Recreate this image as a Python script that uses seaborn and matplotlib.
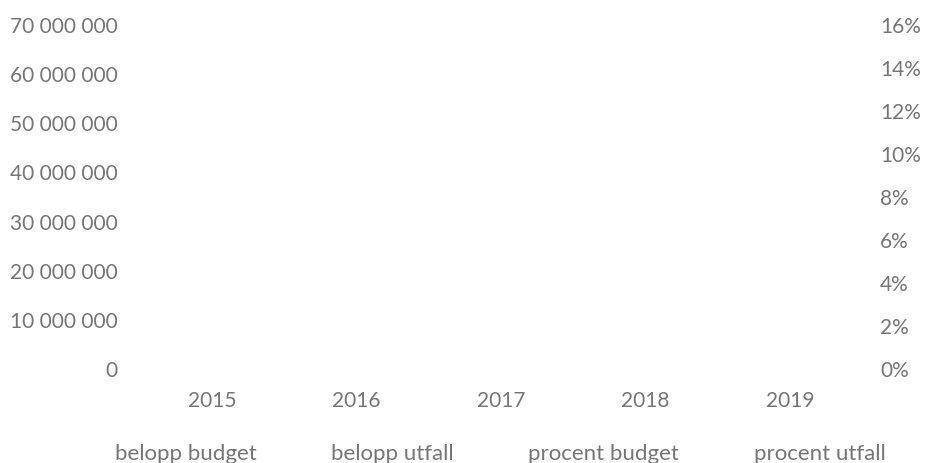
import numpy as np
import pandas as pd
import matplotlib
matplotlib.use("Agg")
import matplotlib.pyplot as plt
from matplotlib.patches import Patch
from matplotlib.ticker import FuncFormatter, PercentFormatter
import seaborn as sns

# Data: the series exist but carry no values in the source chart
years = ["2015", "2016", "2017", "2018", "2019"]
belopp_budget = [np.nan, np.nan, np.nan, np.nan, np.nan]
belopp_utfall = [np.nan, np.nan, np.nan, np.nan, np.nan]
procent_budget = [np.nan, np.nan, np.nan, np.nan, np.nan]
procent_utfall = [np.nan, np.nan, np.nan, np.nan, np.nan]
series_names = ["belopp budget", "belopp utfall", "procent budget", "procent utfall"]

TEXT = "#767676"

sns.set_theme(style="white")
plt.rcParams["font.family"] = ["Lato", "DejaVu Sans"]
plt.rcParams["font.size"] = 15

df_belopp = pd.DataFrame({
    "year": years * 2,
    "value": belopp_budget + belopp_utfall,
    "serie": [series_names[0]] * 5 + [series_names[1]] * 5,
})
df_procent = pd.DataFrame({
    "year": years * 2,
    "value": procent_budget + procent_utfall,
    "serie": [series_names[2]] * 5 + [series_names[3]] * 5,
})

fig = plt.figure(figsize=(9.26, 4.64), dpi=100)
ax = fig.add_axes([0.151, 0.2047, 0.780, 0.7413])

sns.barplot(data=df_belopp, x="year", y="value", hue="serie", ax=ax,
            order=years, legend=False)
ax.set_xlim(-0.5, 4.5)
ax.set_ylim(0, 70_000_000)
ax.set_yticks(np.arange(0, 70_000_001, 10_000_000))
ax.yaxis.set_major_formatter(FuncFormatter(lambda v, p: f"{int(v):,}".replace(",", " ")))

ax2 = ax.twinx()
sns.lineplot(data=df_procent, x="year", y="value", hue="serie", ax=ax2, legend=False)
ax2.set_xlim(-0.5, 4.5)
ax2.set_ylim(0, 0.16)
ax2.set_yticks(np.arange(0, 0.161, 0.02))
ax2.yaxis.set_major_formatter(PercentFormatter(1.0, decimals=0))

for a in (ax, ax2):
    a.set_xlabel("")
    a.set_ylabel("")
    for s in a.spines.values():
        s.set_visible(False)
    a.tick_params(length=0, colors=TEXT, labelsize=15)
ax.tick_params(axis="y", pad=16)
ax.tick_params(axis="x", pad=16)
ax2.tick_params(axis="y", pad=13)

handles = [Patch(facecolor="none", edgecolor="none") for _ in series_names]
fig.legend(handles, series_names, loc="lower center", ncol=4, frameon=False,
           bbox_to_anchor=(0.527, -0.043), handlelength=0.7, handletextpad=0.4,
           columnspacing=2.25, labelcolor=TEXT, fontsize=16)

fig.savefig("out.png", dpi=100)
